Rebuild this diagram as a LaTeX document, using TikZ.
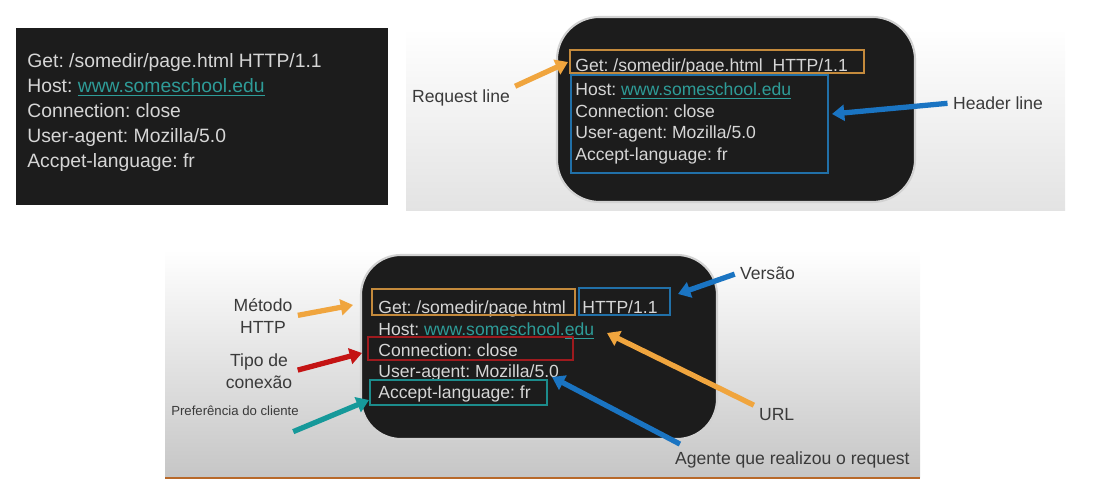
\documentclass[tikz,border=0pt]{standalone}
\usepackage{fontspec}
\setmainfont{Liberation Sans}
\usetikzlibrary{arrows.meta,fit}
\frenchspacing
\definecolor{codebg}{HTML}{1C1C1C}
\definecolor{codetext}{HTML}{D6D6D6}
\definecolor{urlteal}{HTML}{2E9C98}
\definecolor{lbltext}{HTML}{3A3A3A}
\definecolor{boxorange}{HTML}{C48A3C}
\definecolor{boxblue}{HTML}{2170A8}
\definecolor{boxred}{HTML}{9E1A1E}
\definecolor{boxteal}{HTML}{1C8C8C}
\definecolor{arroworange}{HTML}{F0A53E}
\definecolor{arrowblue}{HTML}{1A74C2}
\definecolor{arrowred}{HTML}{C41414}
\definecolor{arrowteal}{HTML}{16999A}
\definecolor{rulebrown}{HTML}{B8692A}
\tikzset{
  code/.style={anchor=base west, inner sep=0pt, text=codetext, font=\fontsize{10}{12}\selectfont},
  bigcode/.style={code, font=\fontsize{11}{13}\selectfont},
  lbl/.style={text=lbltext, inner sep=1pt, align=center, font=\fontsize{10}{12.5}\selectfont},
  hl/.style={draw, line width=1.2pt, inner sep=0pt},
  pointer/.style={line width=3pt, shorten <=2pt, -{Triangle[length=7pt,width=9pt]}},
  card/.style={fill=codebg, draw=gray!35, line width=1.2pt},
}
\newcommand{\urltext}[1]{\textcolor{urlteal}{#1}}
\begin{document}
\begin{tikzpicture}[x=0.02cm, y=-0.02cm]
\useasboundingbox (0,0) rectangle (1096,492);

\fill[codebg] (16,28) rectangle (388,205);
\node[bigcode] (a1) at (27,68) {Get: /somedir/page.html HTTP/1.1};
\node[bigcode] (a2) at (27,93) {Host: \urltext{\underline{www.someschool.edu}}};
\node[bigcode] (a3) at (27,118) {Connection: close};
\node[bigcode] (a4) at (27,143) {User-agent: Mozilla/5.0};
\node[bigcode] (a5) at (27,168) {Accpet-language: fr};

\shade[top color=white, bottom color=gray!22] (406,28) rectangle (1065,211);
\filldraw[card, rounded corners=0.85cm] (557,17) rectangle (915,202);
\node[code] (b1) at (575,72) {Get: /somedir/page.html\ \ HTTP/1.1};
\node[code] (b2) at (575,96) {Host: \urltext{\underline{www.someschool.edu}}};
\node[code] (b3) at (575,117.5) {Connection: close};
\node[code] (b4) at (575,139) {User-agent: Mozilla/5.0};
\node[code] (b5) at (575,160.5) {Accept-language: fr};
\node[hl, draw=boxorange, fit={(570,50) (864,73)}] (reqbox) {};
\node[hl, draw=boxblue, fit={(571,75) (828,173)}] (hdrbox) {};
\node[lbl] (reqlbl) at (461,98) {Request line};
\node[lbl, anchor=west] (hdrlbl) at (951,103) {Header line};
\coordinate (reqtip) at (568,62);
\coordinate (hdrtip) at (832,114);
\draw[pointer, arroworange] (reqlbl.north east) -- (reqtip);
\draw[pointer, arrowblue] (hdrlbl.west) -- (hdrtip);

\shade[top color=white, bottom color=gray!45] (165,250) rectangle (920,478);
\draw[rulebrown, line width=1.5pt] (165,478) -- (920,478);
\filldraw[card, rounded corners=0.8cm] (361,255) rectangle (717,439);
\node[code] (c1) at (378,314) {Get: /somedir/page.html};
\node[code] (c6) at (582,314) {HTTP/1.1};
\node[code] (c2) at (378,336) {Host: \urltext{www.someschool.\underline{edu}}};
\node[code] (c3) at (378,357) {Connection: close};
\node[code] (c4) at (378,378) {User-agent: Mozilla/5.0};
\node[code] (c5) at (378,399) {Accept-language: fr};
\node[hl, draw=boxorange, fit={(372,289) (575,315)}] (getbox) {};
\node[hl, draw=boxblue, fit={(579,288) (670,315)}] (verbox) {};
\node[hl, draw=boxred, fit={(368,337) (573,360)}] (conbox) {};
\node[hl, draw=boxteal, fit={(370,380) (547,405)}] (langbox) {};

\node[lbl] (metodo) at (263,316) {Método\\HTTP};
\node[lbl] (tipo) at (259,371) {Tipo de\\conexão};
\node[lbl, font=\fontsize{7.5}{9}\selectfont] (pref) at (235,411) {Preferência do cliente};
\node[lbl, anchor=west] (versao) at (738,273) {Versão};
\node[lbl, anchor=west] (url) at (757,415) {URL};
\node[lbl, anchor=west] (agente) at (673,460) {Agente que realizou o request};
\coordinate (mettip) at (353,305);
\coordinate (tipotip) at (362,353);
\coordinate (preftail) at (290,433);
\coordinate (preftip) at (369,400);
\coordinate (vertip) at (678,294);
\coordinate (urltip) at (607,333);
\coordinate (agtip) at (552,377);
\draw[pointer, arroworange] (metodo.east) -- (mettip);
\draw[pointer, arrowred] (tipo.east) -- (tipotip);
\draw[pointer, arrowteal] (preftail) -- (preftip);
\draw[pointer, arrowblue] (versao.west) -- (vertip);
\draw[pointer, arroworange] (url.north west) -- (urltip);
\draw[pointer, arrowblue] ([xshift=0.2cm, yshift=0.08cm]agente.north west) -- (agtip);
\end{tikzpicture}
\end{document}
